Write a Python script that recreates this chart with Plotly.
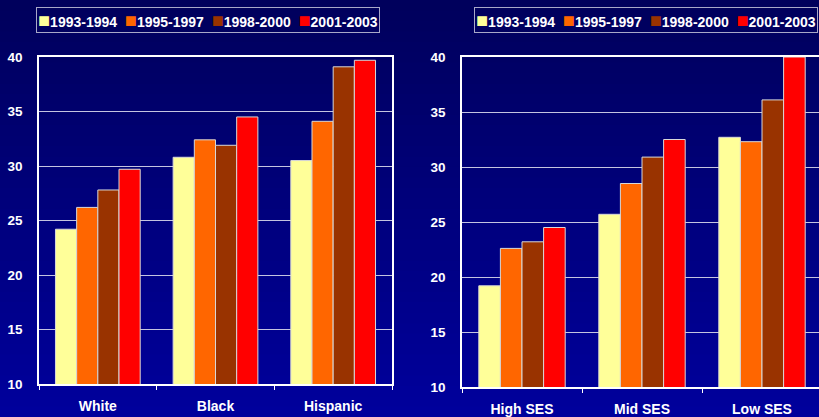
import plotly.graph_objects as go

W, H = 819, 417

series = ["1993-1994", "1995-1997", "1998-2000", "2001-2003"]
colors = ["#FFFF99", "#FF6600", "#993300", "#FF0000"]

race_cats = ["White", "Black", "Hispanic"]
race_vals = [
    [24.2, 30.8, 30.5],
    [26.2, 32.4, 34.1],
    [27.8, 31.9, 39.1],
    [29.7, 34.5, 39.7],
]

ses_cats = ["High SES", "Mid SES", "Low SES"]
ses_vals = [
    [19.2, 25.7, 32.7],
    [22.6, 28.5, 32.3],
    [23.2, 30.9, 36.1],
    [24.5, 32.5, 40.0],
]

y_ticks = [10, 15, 20, 25, 30, 35, 40]

FONT = "Arial, 'Liberation Sans', sans-serif"

fig = go.Figure()
for name, col, vals in zip(series, colors, race_vals):
    fig.add_trace(go.Bar(x=race_cats, y=vals, name=name, marker=dict(color=col, line=dict(color="#d8d8d8", width=1)),
                         xaxis="x", yaxis="y", showlegend=False))
for name, col, vals in zip(series, colors, ses_vals):
    fig.add_trace(go.Bar(x=ses_cats, y=vals, name=name, marker=dict(color=col, line=dict(color="#d8d8d8", width=1)),
                         xaxis="x2", yaxis="y2", showlegend=False))

# background gradient (decoration)
n = 40
c0 = (0x00, 0x00, 0x5c)
c1 = (0x00, 0x00, 0x9c)
shapes = []
for i in range(n):
    t = i / (n - 1)
    c = tuple(int(round(a + (b - a) * t)) for a, b in zip(c0, c1))
    shapes.append(dict(type="rect", xref="paper", yref="paper", x0=0, x1=1,
                       y0=1 - (i + 1) / n - 0.002, y1=1 - i / n,
                       fillcolor="rgb(%d,%d,%d)" % c, line=dict(width=0), layer="below"))

axis_font = dict(family=FONT, size=13.5, color="white", weight="bold")
cat_font = dict(family=FONT, size=14, color="white", weight="bold")

common_x = dict(type="category", showline=True, linecolor="white", linewidth=1.5, mirror=True,
                ticks="outside", ticklen=4, tickcolor="white", tickson="boundaries",
                tickfont=cat_font, showgrid=False, automargin=False, ticklabelstandoff=8)
common_y = dict(range=[10, 40], tickvals=y_ticks, showline=True, linecolor="white", linewidth=1.5,
                showgrid=True, gridcolor="#c4c4e0", gridwidth=1, ticks="", tickfont=axis_font,
                automargin=False, ticklabelstandoff=12, zeroline=False)

fig.update_layout(
    width=W, height=H,
    margin=dict(l=0, r=0, t=0, b=0),
    paper_bgcolor="#00007a", plot_bgcolor="rgba(0,0,0,0)",
    barmode="group", bargap=0.28, bargroupgap=0,
    shapes=shapes,
    xaxis=dict(common_x, domain=[39 / W, 392 / W], range=[-0.5, 2.5], anchor="y"),
    yaxis=dict(common_y, domain=[1 - 384 / H, 1 - 57 / H], anchor="x", mirror=True),
    xaxis2=dict(common_x, domain=[462 / W, 1.0], range=[-0.5, 2.475], anchor="y2"),
    yaxis2=dict(common_y, domain=[1 - 387 / H, 1 - 57 / H], anchor="x2", mirror=False),
)

def legend_text():
    parts = []
    for name, col in zip(series, colors):
        parts.append("<span style='color:%s;font-size:20px'>■</span>%s" % (col, name))
    return "&nbsp;&nbsp;".join(parts)

for cx in (208, 646):
    fig.add_annotation(xref="paper", yref="paper", x=cx / W, y=1 - 19.5 / H, xanchor="center", yanchor="middle",
                       text=legend_text(), showarrow=False,
                       font=dict(family=FONT, size=14, color="white", weight="bold"),
                       bordercolor="#a8a8c8", borderwidth=1, borderpad=1, bgcolor="rgba(0,0,0,0)")

fig.write_html("out.html")
